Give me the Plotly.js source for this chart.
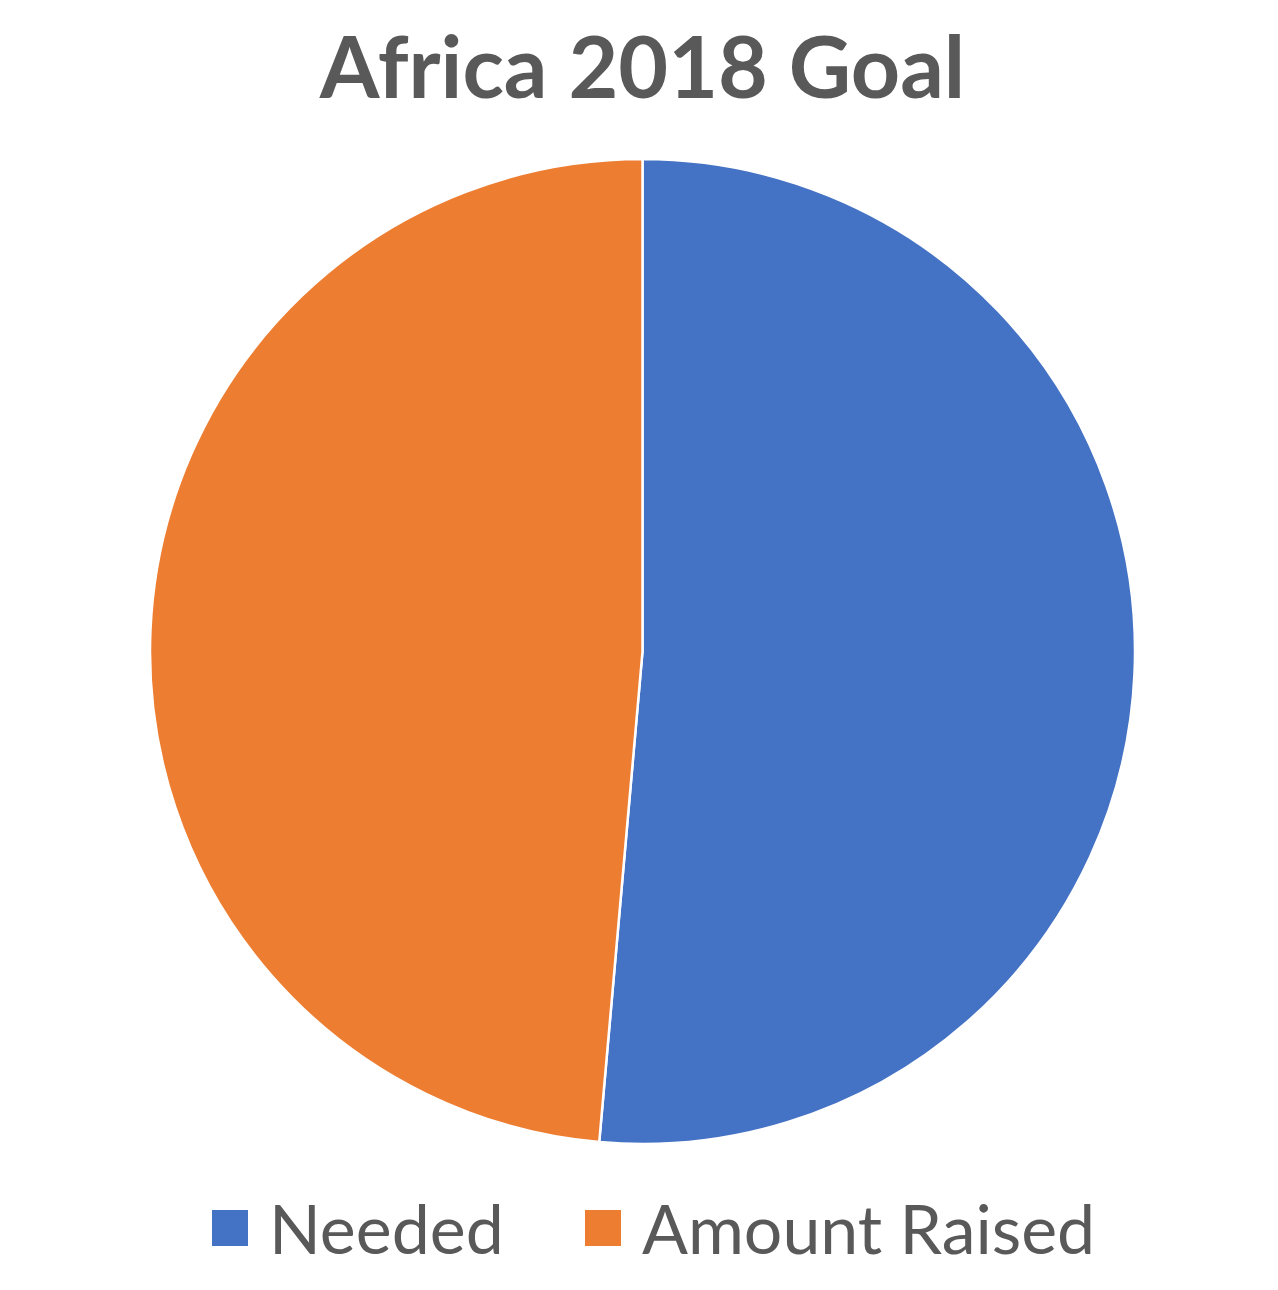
<!DOCTYPE html>
<html>
<head>
<meta charset="utf-8">
<script src="https://cdn.plot.ly/plotly-3.0.1.min.js"></script>
<style>html,body{margin:0;padding:0;background:#fff;}#chart{width:1278px;height:1290px;}</style>
</head>
<body>
<div id="chart"></div>
<script>
// Data
const categories = ["Needed", "Amount Raised"];
const values = [51.4, 48.6];
const colors = ["#4472C4", "#ED7D31"];
const chartTitle = "Africa 2018 Goal";

const W = 1278, H = 1290;
const textColor = "#595959";
const fontFam = "Lato, 'Open Sans', sans-serif";

const trace = {
  type: "pie",
  labels: categories,
  values: values,
  sort: false,
  direction: "clockwise",
  rotation: 0,
  textinfo: "none",
  hoverinfo: "label+value",
  marker: { colors: colors, line: { color: "#ffffff", width: 2.5 } },
  domain: { x: [150 / W, 1135 / W], y: [1 - 1144 / H, 1 - 159 / H] },
  showlegend: false
};

// Custom legend (large keys like the original)
const legendX = [212, 585];      // key left edges, px
const keySize = 36;
const keyTop = 1210;
const shapes = [];
const annotations = [];
categories.forEach((c, i) => {
  shapes.push({
    type: "rect", xref: "paper", yref: "paper",
    x0: legendX[i] / W, x1: (legendX[i] + keySize) / W,
    y0: 1 - (keyTop + keySize) / H, y1: 1 - keyTop / H,
    fillcolor: colors[i], line: { width: 0 }
  });
  annotations.push({
    xref: "paper", yref: "paper",
    x: (legendX[i] + keySize + 19) / W, y: 1 - (keyTop + keySize / 2 - 1) / H,
    xanchor: "left", yanchor: "middle",
    text: c, showarrow: false,
    font: { family: fontFam, size: 68, color: textColor }
  });
});

const layout = {
  width: W, height: H,
  margin: { l: 0, r: 0, t: 0, b: 0 },
  paper_bgcolor: "#ffffff",
  title: {
    text: "<b>" + chartTitle + "</b>",
    x: (642.5) / W, xref: "paper", xanchor: "center",
    y: 1 - 68 / H, yref: "container", yanchor: "middle",
    font: { family: fontFam, size: 86, color: textColor }
  },
  shapes: shapes,
  annotations: annotations,
  showlegend: false
};

Plotly.newPlot("chart", [trace], layout, { displayModeBar: false, staticPlot: true });
</script>
</body>
</html>
